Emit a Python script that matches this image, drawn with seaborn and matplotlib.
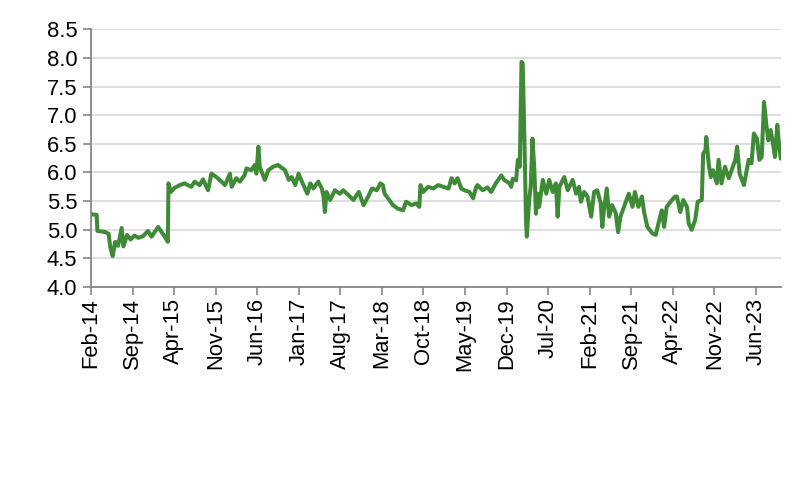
import numpy as np
import pandas as pd
import matplotlib
matplotlib.use("Agg")
import matplotlib.pyplot as plt
import matplotlib.dates as mdates
from matplotlib.ticker import FormatStrFormatter
import seaborn as sns

# values
dates = [
    "2014-02-03", "2014-03-01", "2014-03-05", "2014-04-15", "2014-05-01", "2014-05-10",
    "2014-05-22", "2014-06-04", "2014-06-19", "2014-07-07", "2014-07-16", "2014-08-04",
    "2014-08-22", "2014-09-10", "2014-10-01", "2014-10-25", "2014-11-19", "2014-12-07",
    "2015-01-10", "2015-02-13", "2015-03-01", "2015-03-04", "2015-03-16", "2015-04-04",
    "2015-05-01", "2015-05-25", "2015-06-29", "2015-07-16", "2015-08-11", "2015-08-28",
    "2015-09-23", "2015-10-10", "2015-11-05", "2015-12-01", "2015-12-19", "2016-01-13",
    "2016-01-22", "2016-02-15", "2016-03-04", "2016-03-28", "2016-04-07", "2016-05-02",
    "2016-05-19", "2016-05-28", "2016-06-07", "2016-06-14", "2016-07-10", "2016-07-28",
    "2016-08-22", "2016-09-16", "2016-10-05", "2016-10-22", "2016-11-10", "2016-11-25",
    "2016-12-13", "2016-12-30", "2017-01-16", "2017-02-13", "2017-02-28", "2017-03-16",
    "2017-04-10", "2017-04-28", "2017-05-07", "2017-05-14", "2017-05-22", "2017-06-10",
    "2017-07-04", "2017-07-30", "2017-08-16", "2017-09-13", "2017-10-07", "2017-11-04",
    "2017-11-28", "2017-12-22", "2018-01-10", "2018-02-04", "2018-02-22", "2018-03-07",
    "2018-03-16", "2018-04-02", "2018-04-28", "2018-05-22", "2018-06-19", "2018-07-04",
    "2018-08-01", "2018-08-25", "2018-09-10", "2018-09-16", "2018-09-30", "2018-10-25",
    "2018-11-19", "2018-12-16", "2019-01-10", "2019-02-07", "2019-02-22", "2019-03-10",
    "2019-03-25", "2019-04-13", "2019-04-29", "2019-05-25", "2019-06-13", "2019-06-29",
    "2019-07-05", "2019-08-01", "2019-08-25", "2019-09-13", "2019-10-07", "2019-11-04",
    "2019-11-19", "2019-12-16", "2019-12-25", "2020-01-02", "2020-01-19", "2020-01-28",
    "2020-02-07", "2020-02-16", "2020-02-22", "2020-03-01", "2020-03-10", "2020-03-14",
    "2020-03-26", "2020-04-03", "2020-04-12", "2020-04-21", "2020-04-30", "2020-05-08",
    "2020-05-16", "2020-06-04", "2020-06-22", "2020-07-07", "2020-07-25", "2020-08-10",
    "2020-08-19", "2020-08-28", "2020-09-22", "2020-10-10", "2020-11-04", "2020-11-22",
    "2020-12-07", "2020-12-16", "2021-01-02", "2021-01-19", "2021-02-07", "2021-02-22",
    "2021-03-10", "2021-03-28", "2021-04-05", "2021-04-13", "2021-04-28", "2021-05-10",
    "2021-05-25", "2021-06-13", "2021-06-25", "2021-07-07", "2021-08-04", "2021-08-19",
    "2021-09-07", "2021-09-19", "2021-10-07", "2021-10-25", "2021-11-05", "2021-11-22",
    "2021-12-17", "2022-01-04", "2022-01-22", "2022-02-04", "2022-02-16", "2022-03-01",
    "2022-03-28", "2022-04-13", "2022-04-22", "2022-05-10", "2022-05-25", "2022-06-13",
    "2022-06-22", "2022-07-07", "2022-07-25", "2022-08-07", "2022-08-28", "2022-09-04",
    "2022-09-16", "2022-09-20", "2022-10-02", "2022-10-13", "2022-10-25", "2022-11-13",
    "2022-11-22", "2022-12-07", "2022-12-25", "2023-01-13", "2023-01-28", "2023-02-16",
    "2023-02-25", "2023-03-10", "2023-04-01", "2023-04-25", "2023-05-10", "2023-05-22",
    "2023-06-07", "2023-06-19", "2023-07-01", "2023-07-13", "2023-07-24", "2023-08-04",
    "2023-08-16", "2023-08-28", "2023-09-07", "2023-09-19", "2023-09-29", "2023-10-07",
]
values = [
    5.27, 5.26, 4.98, 4.96, 4.93, 4.70,
    4.54, 4.79, 4.72, 5.03, 4.71, 4.91,
    4.83, 4.90, 4.86, 4.89, 4.98, 4.88,
    5.05, 4.88, 4.79, 5.81, 5.66, 5.73,
    5.78, 5.81, 5.75, 5.84, 5.78, 5.88,
    5.69, 5.98, 5.92, 5.84, 5.78, 5.98,
    5.75, 5.90, 5.84, 5.95, 6.07, 6.04,
    6.13, 5.98, 6.45, 6.10, 5.87, 6.04,
    6.10, 6.13, 6.08, 6.04, 5.87, 5.92,
    5.78, 5.98, 5.84, 5.63, 5.81, 5.72,
    5.84, 5.72, 5.58, 5.31, 5.66, 5.52,
    5.69, 5.63, 5.69, 5.60, 5.52, 5.66,
    5.43, 5.58, 5.72, 5.69, 5.81, 5.78,
    5.63, 5.55, 5.43, 5.37, 5.34, 5.49,
    5.43, 5.46, 5.40, 5.78, 5.66, 5.75,
    5.72, 5.78, 5.75, 5.72, 5.90, 5.81,
    5.90, 5.72, 5.69, 5.66, 5.55, 5.75,
    5.78, 5.69, 5.74, 5.66, 5.81, 5.95,
    5.87, 5.81, 5.75, 5.89, 5.86, 6.22,
    6.10, 7.93, 7.90, 6.68, 5.17, 4.88,
    5.52, 5.75, 6.59, 6.10, 5.28, 5.63,
    5.40, 5.87, 5.63, 5.87, 5.66, 5.81,
    5.23, 5.75, 5.92, 5.69, 5.87, 5.63,
    5.75, 5.49, 5.66, 5.58, 5.23, 5.66,
    5.69, 5.46, 5.05, 5.34, 5.72, 5.23,
    5.43, 5.29, 4.96, 5.23, 5.49, 5.63,
    5.40, 5.66, 5.40, 5.58, 5.31, 5.05,
    4.94, 4.91, 5.17, 5.34, 5.05, 5.40,
    5.52, 5.58, 5.58, 5.31, 5.52, 5.40,
    5.11, 5.00, 5.17, 5.49, 5.52, 6.33,
    6.39, 6.62, 6.16, 5.92, 6.04, 5.81,
    6.22, 5.81, 6.10, 5.90, 6.04, 6.22,
    6.45, 5.98, 5.78, 6.22, 6.16, 6.68,
    6.59, 6.22, 6.27, 7.23, 6.86, 6.56,
    6.74, 6.50, 6.27, 6.83, 6.45, 6.24,
]
y_ticks = [4.0, 4.5, 5.0, 5.5, 6.0, 6.5, 7.0, 7.5, 8.0, 8.5]
x_tick_dates = pd.date_range("2014-02-01", "2023-06-01", freq="7MS")

df = pd.DataFrame({"date": pd.to_datetime(dates), "value": values})

sns.set_style("white")
plt.rcParams["font.family"] = ["Liberation Sans", "DejaVu Sans"]

fig, ax = plt.subplots(figsize=(8, 4.95), dpi=100)
fig.subplots_adjust(left=0.114, right=0.976, top=0.941, bottom=0.42)

sns.lineplot(data=df, x="date", y="value", color="#3f8a36", lw=2.9, ax=ax)

ax.set_ylim(y_ticks[0], y_ticks[-1])
ax.set_yticks(y_ticks)
ax.yaxis.set_major_formatter(FormatStrFormatter("%.1f"))
ax.set_xlim(pd.Timestamp("2014-02-01"), df["date"].iloc[-1])
ax.set_xticks(x_tick_dates)
ax.xaxis.set_major_formatter(mdates.DateFormatter("%b-%y"))

ax.grid(axis="y", color="#d9d9d9", lw=1.2)
ax.set_axisbelow(True)
for side in ["top", "right"]:
    ax.spines[side].set_visible(False)
for side in ["left", "bottom"]:
    ax.spines[side].set_color("#868686")
    ax.spines[side].set_linewidth(1.3)

ax.tick_params(axis="y", direction="out", length=6, width=1.2, color="#868686",
               labelsize=15.8, labelcolor="black", pad=4, left=True)
ax.tick_params(axis="x", direction="out", length=6, width=1.2, color="#868686",
               labelsize=15.8, labelcolor="black", pad=2, rotation=90, bottom=True)
ax.set_xlabel("")
ax.set_ylabel("")

plt.savefig("out.png", dpi=100)
